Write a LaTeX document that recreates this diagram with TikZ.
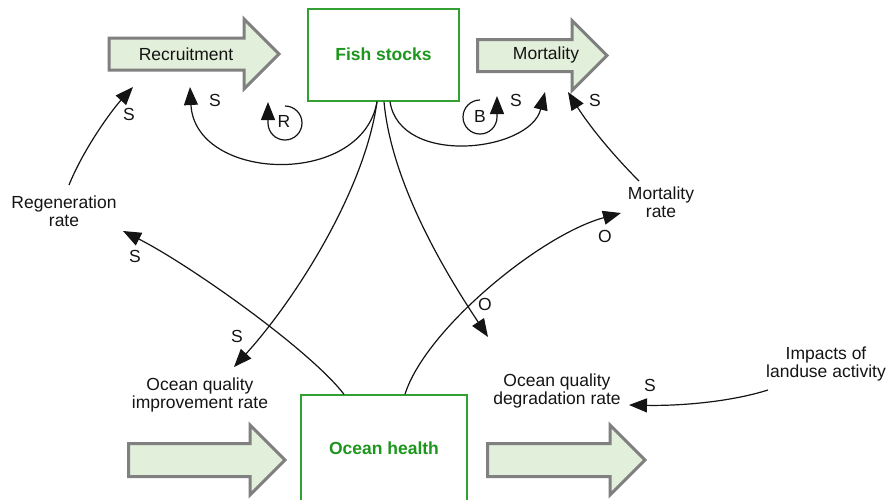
\documentclass[tikz,border=0pt]{standalone}
\usepackage{fontspec}
\setmainfont{Liberation Sans}
\usetikzlibrary{arrows.meta,calc}
\definecolor{flowfill}{RGB}{226,239,218}
\definecolor{flowedge}{RGB}{128,128,128}
\definecolor{stockgreen}{RGB}{28,150,28}
\definecolor{stockedge}{RGB}{50,160,50}
\definecolor{ink}{RGB}{20,20,20}

\begin{document}
\begin{tikzpicture}[x=1pt,y=-1pt,
  every node/.style={font=\fontsize{17.5}{18}\selectfont, text=ink, inner sep=0pt, align=center},
  flow/.style={draw=flowedge, line width=3pt, fill=flowfill, line join=miter},
  stockbox/.style={draw=stockedge, line width=1.4pt, minimum width=151pt, minimum height=92pt,
    font=\fontsize{17.5}{18}\selectfont\bfseries, text=stockgreen},
  link/.style={draw=ink, line width=1.2pt, -{Triangle[length=18pt,width=14pt]}}
]
\useasboundingbox (0,0) rectangle (887,499);

% flow pipes
\path[flow] (109,38) -- (244,38) -- (244,19) -- (279,54) -- (244,89) -- (244,70) -- (109,70) -- cycle;
\path[flow] (477.5,39.5) -- (572,39.5) -- (572,20.5) -- (607,55.5) -- (572,90.5) -- (572,71.5) -- (477.5,71.5) -- cycle;
\path[flow] (128.5,443.5) -- (250,443.5) -- (250,425) -- (285,460) -- (250,495) -- (250,476.5) -- (128.5,476.5) -- cycle;
\path[flow] (487.5,443.5) -- (610,443.5) -- (610,425) -- (645,460) -- (610,495) -- (610,476.5) -- (487.5,476.5) -- cycle;

% stocks, flows and variables
\node (rec) at (186,54) {Recruitment};
\node[stockbox] (fish) at (383.5,55) {\raisebox{1pt}{Fish stocks}};
\node (mort) at (546,55) {Mortality};
\node[stockbox, minimum width=166pt, minimum height=108pt] (ocean) at (384,449) {\raisebox{2pt}{Ocean health}};
\node (regen) at (64,211) {Regeneration\\rate};
\node (mrate) at (661,202) {Mortality\\rate};
\node (improve) at (200,395) {Ocean quality\\improvement rate};
\node (degrade) at (557,391) {Ocean quality\\degradation rate};
\node (impacts) at (826,364) {Impacts of\\landuse activity};

% loop markers
\node (rloop) at (284,121) {R};
\node (bloop) at (480,116) {B};
\draw[link] (285,106) arc[start angle=-90, end angle=180, radius=17] -- ++(0,-21);
\draw[link] (480,100) arc[start angle=-90, end angle=-360, radius=17] -- ++(0,-21);

% causal links
\draw[link] ($(regen)+(5,-26)$) .. controls (84,148) and (112,110) .. ($(rec)+(-53,33)$);
\draw[link] ($(fish.south)+(-6.5,0)$) .. controls (362,188) and (195,182) .. ($(rec)+(4,33)$);
\draw[link] ($(fish.south)+(6.5,0)$) .. controls (400,167) and (530,152) .. ($(mort)+(-1,37)$);
\draw[link] ($(mrate)+(-22,-21)$) .. controls (611,153) and (588,124) .. ($(mort)+(22,37)$);
\draw[link] ($(fish.south)+(-6.5,0)$) .. controls (365,190) and (295,300) .. ($(improve)+(34,-28)$);
\draw[link] ($(fish.south)+(0.5,0)$) .. controls (392,190) and (455,287) .. ($(degrade)+(-69,-54)$);
\draw[link] ($(ocean.north)+(-40,0)$) .. controls (310,350) and (190,265) .. ($(regen)+(59,20)$);
\draw[link] ($(ocean.north)+(21,0)$) .. controls (425,330) and (540,235) .. ($(mrate)+(-40,11)$);
\draw[link] ($(impacts)+(-58,26)$) .. controls (730,402) and (680,406) .. ($(degrade)+(72,14)$);

% polarity labels
\node (p1) at (129,114) {S};
\node (p2) at (215,100) {S};
\node (p3) at (516,100) {S};
\node (p4) at (595,100) {S};
\node (p5) at (135,256) {S};
\node (p6) at (237,336) {S};
\node (p7) at (485,304) {O};
\node (p8) at (605,236) {O};
\node (p9) at (650,385) {S};
\end{tikzpicture}
\end{document}
